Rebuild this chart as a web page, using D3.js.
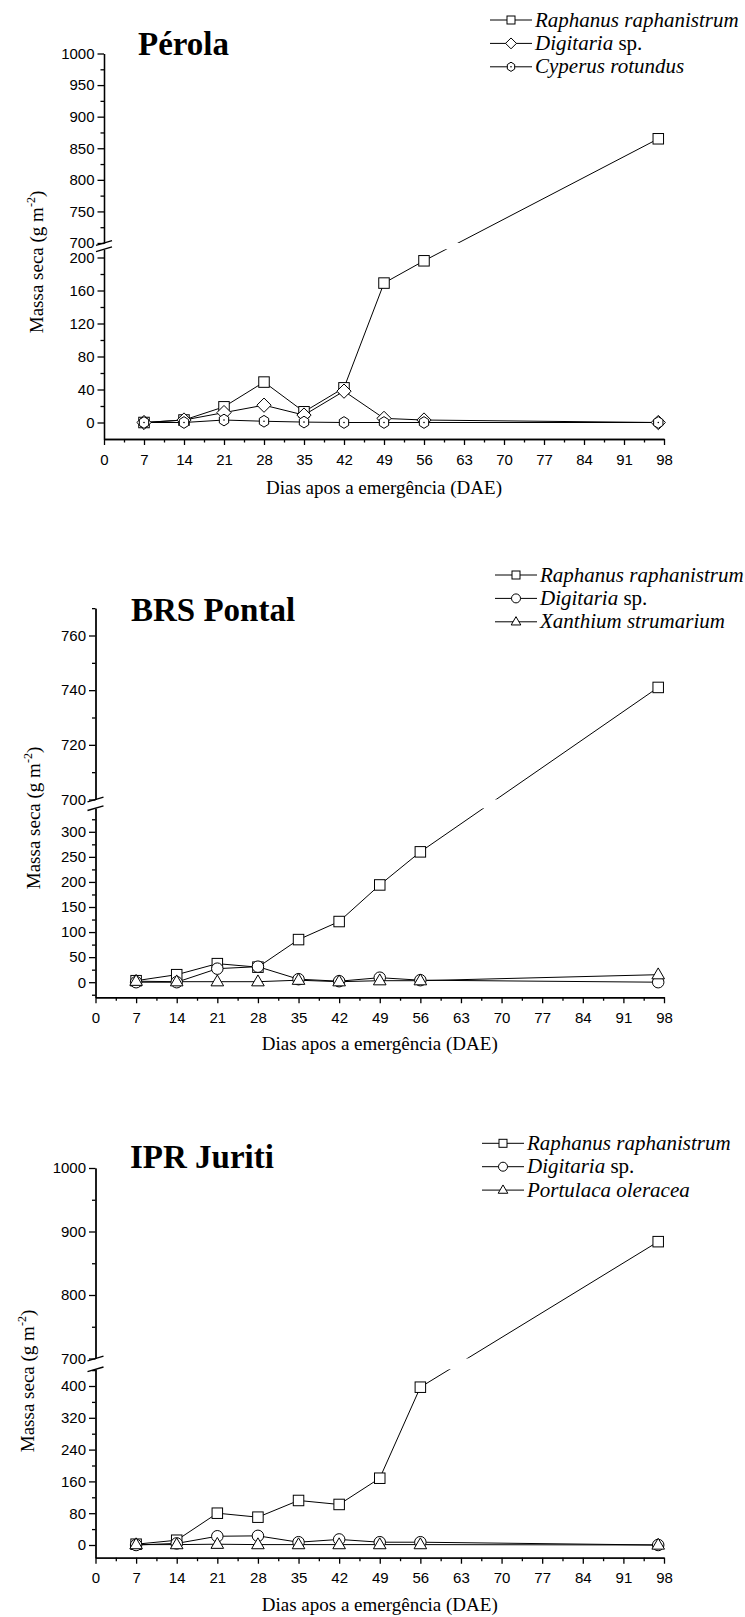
<!DOCTYPE html>
<html><head><meta charset="utf-8">
<script src="https://cdn.jsdelivr.net/npm/d3@7"></script>
<style>body{margin:0;background:#fff} svg{display:block}</style>
</head><body>
<svg id="c" width="745" height="1617"></svg>
<script>
const days = [7,14,21,28,35,42,49,56,97];
const xTickValues = [0,7,14,21,28,35,42,49,56,63,70,77,84,91,98];

const perolaRaphanus  = [0,3,19,49,13,42,169,196,865];
const perolaDigitaria = [0,3,12,21,9,38,5,3,0];
const perolaCyperus   = [0,0,3,1.5,0.5,0,0,0,0];
const perolaLowerTicks = [0,40,80,120,160,200];
const perolaUpperTicks = [700,750,800,850,900,950,1000];

const pontalRaphanus  = [3,15,37,30,85,121,194,260,741];
const pontalDigitaria = [0,0,27,31,6,2,9,4,0];
const pontalXanthium  = [2,1,1,1,4,1,3,3,15];
const pontalLowerTicks = [0,50,100,150,200,250,300];
const pontalUpperTicks = [700,720,740,760];

const juritiRaphanus  = [2,12,80,70,112,102,168,397,884];
const juritiDigitaria = [0,4,22,23,7,14,7,7,0];
const juritiPortulaca = [1,1,2,1,1,1,1,1,0];
const juritiLowerTicks = [0,80,160,240,320,400];
const juritiUpperTicks = [700,800,900,1000];

const titles = ["Pérola","BRS Pontal","IPR Juriti"];
const xTitle = "Dias apos a emergência (DAE)";

const svg = d3.select("#c");
svg.append("rect").attr("width",745).attr("height",1617).attr("fill","#fff");

const SERIF = "'Liberation Serif','Times New Roman',serif";
const SANS = "'Liberation Sans',Arial,sans-serif";

function drawSymbol(g, type, cx, cy, s) {
  let el;
  if (type === "square") {
    el = g.append("rect").attr("x",cx-s/2).attr("y",cy-s/2).attr("width",s).attr("height",s);
  } else if (type === "diamond") {
    const h = s*0.68;
    el = g.append("polygon").attr("points",[[cx,cy-h],[cx+h,cy],[cx,cy+h],[cx-h,cy]].map(p=>p.join(",")).join(" "));
  } else if (type === "circle") {
    el = g.append("circle").attr("cx",cx).attr("cy",cy).attr("r",s/2+0.5);
  } else if (type === "triangle") {
    const a = s*1.2, h = a*0.866;
    el = g.append("polygon").attr("points",[[cx,cy-h*0.62],[cx+a/2,cy+h*0.38],[cx-a/2,cy+h*0.38]].map(p=>p.join(",")).join(" "));
  } else if (type === "hexdot") {
    const r = s/2+0.6, pts=[];
    for (let i=0;i<6;i++){const an=Math.PI/2+i*Math.PI/3; pts.push([cx+r*0.92*Math.cos(an), cy+r*Math.sin(an)]);}
    el = g.append("polygon").attr("points",pts.map(p=>p.join(",")).join(" "));
  }
  el.attr("fill","#fff").attr("stroke","#000").attr("stroke-width",1);
  if (type === "hexdot") g.append("circle").attr("cx",cx).attr("cy",cy).attr("r",0.8).attr("fill","#000");
}

let clipId = 0;
function panel(cfg) {
  const g = svg.append("g");
  const x = d3.scaleLinear().domain([0,98]).range([cfg.x0, cfg.x1]);
  const lower = d3.scaleLinear().domain(cfg.lowRef).range(cfg.lowPx);
  const upper = d3.scaleLinear().domain(cfg.upRef).range(cfg.upPx);
  const lowS = lower.copy().domain([cfg.lowMin, cfg.lowMax]).range([lower(cfg.lowMin), lower(cfg.lowMax)]);
  const upS = upper.copy().domain([cfg.upMin, cfg.upMax]).range([upper(cfg.upMin), upper(cfg.upMax)]);
  const yBottom = lower(cfg.lowMin), yLowTop = lower(cfg.lowMax);
  const yUpBottom = upper(cfg.upMin), yUpTop = upper(cfg.upMax);
  const y = d3.scaleLinear()
    .domain([cfg.lowMin, cfg.lowMax, cfg.upMin, cfg.upMax])
    .range([yBottom, yLowTop, yUpBottom, yUpTop]);

  const mid = arr => { const st = arr[1]-arr[0]; const out=[]; for (let v=arr[0]-st/2; v<=arr[arr.length-1]+st; v+=st) out.push(v); return out; };
  const lowMinor = mid(cfg.lowTicks).filter(v=>v>cfg.lowMin && v<=cfg.lowMax);
  const upMinor = mid(cfg.upTicks).filter(v=>v>=cfg.upMin && v<=cfg.upMax);

  const styleAxis = sel => {
    sel.selectAll("path,line").attr("stroke","#000").attr("stroke-width",1.3);
    sel.selectAll("text").attr("font-family",SANS).attr("font-size",15).attr("fill","#000");
  };

  const ax = cfg.x0;
  g.append("g").attr("transform",`translate(${ax},0)`)
    .call(d3.axisLeft(lowS).tickValues(cfg.lowTicks).tickSize(6.5).tickSizeOuter(0).tickPadding(3).tickFormat(d3.format("d"))).call(styleAxis);
  g.append("g").attr("transform",`translate(${ax},0)`)
    .call(d3.axisLeft(lowS).tickValues(lowMinor).tickSize(3.5).tickSizeOuter(0).tickFormat("")).call(styleAxis);
  g.append("g").attr("transform",`translate(${ax},0)`)
    .call(d3.axisLeft(upS).tickValues(cfg.upTicks).tickSize(6.5).tickSizeOuter(0).tickPadding(3).tickFormat(d3.format("d"))).call(styleAxis);
  g.append("g").attr("transform",`translate(${ax},0)`)
    .call(d3.axisLeft(upS).tickValues(upMinor).tickSize(3.5).tickSizeOuter(0).tickFormat("")).call(styleAxis);

  [yUpBottom, yLowTop].forEach(yb => {
    g.append("line").attr("x1",ax-8).attr("y1",yb+2.3).attr("x2",ax+8).attr("y2",yb-2.3)
      .attr("stroke","#000").attr("stroke-width",1.4);
  });

  const xMinor = xTickValues.slice(0,-1).map((v,i)=>(v+xTickValues[i+1])/2);
  g.append("g").attr("transform",`translate(0,${yBottom})`)
    .call(d3.axisBottom(x).tickValues(xTickValues).tickSize(6).tickSizeOuter(0).tickPadding(9)).call(styleAxis);
  g.append("g").attr("transform",`translate(0,${yBottom})`)
    .call(d3.axisBottom(x).tickValues(xMinor).tickSize(3.5).tickSizeOuter(0).tickFormat("")).call(styleAxis);

  const idL = "clipL"+(clipId), idU = "clipU"+(clipId++);
  const defs = svg.append("defs");
  defs.append("clipPath").attr("id",idL).append("rect").attr("x",0).attr("y",yLowTop).attr("width",745).attr("height",yBottom-yLowTop+30);
  defs.append("clipPath").attr("id",idU).append("rect").attr("x",0).attr("y",yUpTop-30).attr("width",745).attr("height",yUpBottom-yUpTop+30);

  const line = d3.line().x(d=>x(d[0])).y(d=>y(d[1]));
  cfg.series.forEach(s => {
    const pts = days.map((d,i)=>[d,s.values[i]]);
    [idL,idU].forEach(id => {
      g.append("path").attr("d",line(pts)).attr("fill","none").attr("stroke","#000").attr("stroke-width",1)
        .attr("clip-path",`url(#${id})`);
    });
  });
  cfg.series.forEach(s => {
    days.forEach((d,i)=>drawSymbol(g, s.symbol, x(d), y(s.values[i]), 10.5));
  });

  g.append("text").attr("x",cfg.titleX).attr("y",cfg.titleY).text(cfg.title)
    .attr("font-family",SERIF).attr("font-weight","bold").attr("font-size",33).attr("fill","#000");

  cfg.series.forEach((s,i) => {
    const ly = cfg.legY + i*23.4;
    g.append("line").attr("x1",cfg.legX).attr("x2",cfg.legX+42).attr("y1",ly).attr("y2",ly).attr("stroke","#000").attr("stroke-width",1);
    drawSymbol(g, s.symbol, cfg.legX+21, ly, 8);
    const t = g.append("text").attr("x",cfg.legX+45).attr("y",ly+6.5)
      .attr("font-family",SERIF).attr("font-size",21).attr("fill","#000");
    t.append("tspan").attr("font-style","italic").text(s.name);
    if (s.suffix) t.append("tspan").text(s.suffix);
  });

  g.append("text").attr("x",(cfg.x0+cfg.x1)/2).attr("y",cfg.xTitleY).attr("text-anchor","middle")
    .attr("font-family",SERIF).attr("font-size",19).attr("fill","#000").text(xTitle);

  const yt = g.append("text").attr("transform",`translate(${cfg.yTitleX},${cfg.yTitleY}) rotate(-90)`)
    .attr("text-anchor","middle").attr("font-family",SERIF).attr("font-size",19).attr("fill","#000");
  yt.append("tspan").text("Massa seca (g m");
  yt.append("tspan").attr("font-size",12).attr("dy",-8).text("-2");
  yt.append("tspan").attr("dy",8).text(")");
}

panel({
  title: titles[0], titleX: 138, titleY: 54.5,
  x0: 104, x1: 664,
  lowRef: [0,200], lowPx: [422.5,257.5], lowMin: -20, lowMax: 210,
  upRef: [700,1000], upPx: [243,53.5], upMin: 700, upMax: 1000,
  lowTicks: perolaLowerTicks, upTicks: perolaUpperTicks,
  legX: 490, legY: 20,
  xTitleY: 494, yTitleX: 43, yTitleY: 262,
  series: [
    {name:"Raphanus raphanistrum", values: perolaRaphanus, symbol:"square"},
    {name:"Digitaria", suffix:" sp.", values: perolaDigitaria, symbol:"diamond"},
    {name:"Cyperus rotundus", values: perolaCyperus, symbol:"hexdot"}
  ]
});

panel({
  title: titles[1], titleX: 131, titleY: 621,
  x0: 95.5, x1: 664,
  lowRef: [0,300], lowPx: [982.2,831.8], lowMin: -30, lowMax: 347,
  upRef: [700,760], upPx: [799.5,635.5], upMin: 700, upMax: 770,
  lowTicks: pontalLowerTicks, upTicks: pontalUpperTicks,
  legX: 495, legY: 575,
  xTitleY: 1050, yTitleX: 40, yTitleY: 818,
  series: [
    {name:"Raphanus raphanistrum", values: pontalRaphanus, symbol:"square"},
    {name:"Digitaria", suffix:" sp.", values: pontalDigitaria, symbol:"circle"},
    {name:"Xanthium strumarium", values: pontalXanthium, symbol:"triangle"}
  ]
});

panel({
  title: titles[2], titleX: 130, titleY: 1168.3,
  x0: 95.5, x1: 664,
  lowRef: [0,400], lowPx: [1545,1386], lowMin: -32, lowMax: 442,
  upRef: [700,1000], upPx: [1358.5,1168], upMin: 700, upMax: 1000,
  lowTicks: juritiLowerTicks, upTicks: juritiUpperTicks,
  legX: 482, legY: 1143.3,
  xTitleY: 1611, yTitleX: 34, yTitleY: 1381,
  series: [
    {name:"Raphanus raphanistrum", values: juritiRaphanus, symbol:"square"},
    {name:"Digitaria", suffix:" sp.", values: juritiDigitaria, symbol:"circle"},
    {name:"Portulaca oleracea", values: juritiPortulaca, symbol:"triangle"}
  ]
});
</script>
</body></html>
